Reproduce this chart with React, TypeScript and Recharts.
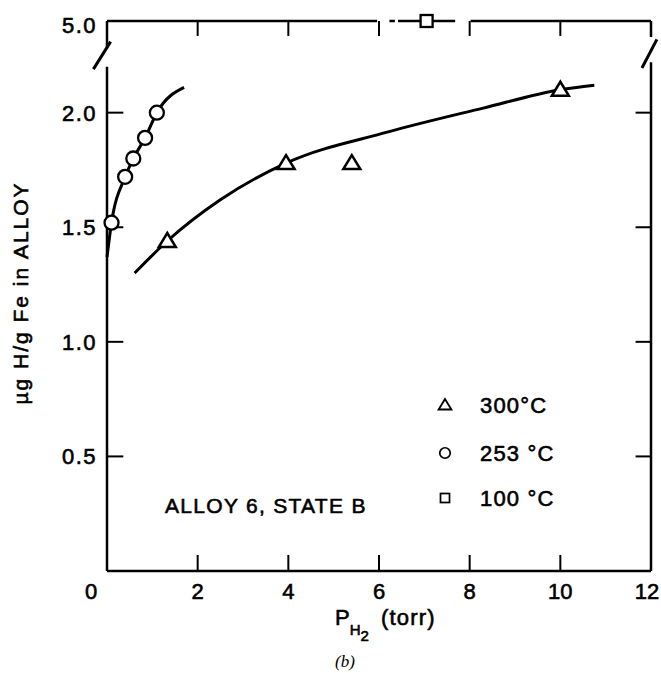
import { ComposedChart, Line, Scatter, XAxis, YAxis, ReferenceLine, Customized } from "recharts";

const FONT = "'Liberation Sans', Arial, sans-serif";
const INK = { fill: "#000", stroke: "#000", strokeWidth: 0.6 };

// axis ticks
const xTicks = [0, 2, 4, 6, 8, 10, 12];
const yTicks = [0.5, 1.0, 1.5, 2.0, 2.4];
const innerXTicks = [2, 4, 6, 8, 10];
const innerYTicks = [0.5, 1.0, 1.5, 2.0];

// the y axis is broken above 2.2; 5.0 sits on the top edge
const BREAK_TOP = 2.4;
const onAxis = (v: number) => (v > BREAK_TOP ? BREAK_TOP : v);

// 300 °C  (triangles)
const p300 = [1.33, 3.95, 5.4, 10.0];
const h300 = [1.44, 1.78, 1.78, 2.1];
const fit300x = [0.61, 1.33, 2.5, 3.95, 6.18, 8.3, 10.0, 10.75];
const fit300y = [1.3, 1.44, 1.62, 1.78, 1.915, 2.02, 2.1, 2.12];

// 253 °C  (circles)
const p253 = [0.1, 0.4, 0.58, 0.84, 1.1];
const h253 = [1.52, 1.72, 1.8, 1.89, 2.0];
const fit253x = [0.0, 0.1, 0.4, 0.58, 0.84, 1.1, 1.7];
const fit253y = [1.37, 1.52, 1.72, 1.8, 1.89, 2.0, 2.11];

// 100 °C  (square, off scale)
const p100 = [7.05];
const h100 = [5.0];
const range100 = [6.42, 7.05, 7.68];

// pieces of the frame (top edge has gaps around the 100 °C point)
const topEdge = [[0, 5.96], [6.23, 6.35], [8.02, 12]];
const leftEdge = [[0, 2.2], [2.28, 2.4]];
const rightEdge = [[0, 2.22], [2.33, 2.4]];

const zip = (xs: number[], ys: number[]) => xs.map((x, i) => ({ x, y: onAxis(ys[i]) }));

const tri = ({ cx, cy }: any) => (
    <polygon points={`${cx},${cy - 8} ${cx - 8.5},${cy + 6} ${cx + 8.5},${cy + 6}`} fill="#fff" stroke="#000" strokeWidth={2.5} />
);
const circ = ({ cx, cy }: any) => <circle cx={cx} cy={cy} r={7} fill="#fff" stroke="#000" strokeWidth={2.3} />;
const sq = ({ cx, cy }: any) => <rect x={cx - 6} y={cy - 6} width={12} height={12} fill="#fff" stroke="#000" strokeWidth={2.3} />;

function XTick({ x, y, payload }: any) {
    const v = payload.value;
    const dx = v === 0 ? -16 : v === 12 ? -4 : 0;
    return (
        <text x={x + dx} y={y + 28} textAnchor="middle" fontSize={22} fontFamily={FONT} {...INK}>
            {v}
        </text>
    );
}

function YTick({ x, y, payload }: any) {
    const v = payload.value;
    const label = v === BREAK_TOP ? "5.0" : v.toFixed(1);
    return (
        <text x={x - 10} y={y + 8 + (v === BREAK_TOP ? 4 : 0)} textAnchor="end" fontSize={22} fontFamily={FONT} {...INK} style={{ letterSpacing: "1.5px" }}>
            {label}
        </text>
    );
}

const legendRows = [
    { label: "300°C", shape: tri, y: 405 },
    { label: "253 °C", shape: circ, y: 453 },
    { label: "100 °C", shape: sq, y: 498 },
];

function Annotations() {
    return (
        <g fontFamily={FONT}>
            <g {...INK}>
                <text x={20} y={293} transform="rotate(-90, 20, 293)" textAnchor="middle" dominantBaseline="central" fontSize={21} style={{ letterSpacing: "2px" }}>
                    µg H/g Fe in ALLOY
                </text>
                <text x={335} y={625} fontSize={22}>
                    P
                    <tspan dy={10} fontSize={15}>H</tspan>
                    <tspan dy={6} fontSize={15}>2</tspan>
                    <tspan dy={-16} dx={12} style={{ letterSpacing: "1.2px" }}>(torr)</tspan>
                </text>
                <text x={165} y={513} fontSize={21} style={{ letterSpacing: "1.3px" }}>
                    ALLOY 6, STATE B
                </text>
            </g>
            <text x={345} y={667} textAnchor="middle" fontSize={17} fontStyle="italic" fontFamily="'Liberation Serif', serif" fill="#000">
                (b)
            </text>
            {legendRows.map((r) => (
                <g key={r.label}>
                    <g transform={`translate(${445},${r.y}) scale(0.75) translate(${-445},${-r.y})`}>{r.shape({ cx: 445, cy: r.y })}</g>
                    <text x={480} y={r.y + 8} fontSize={22} {...INK} style={{ letterSpacing: "1.2px" }}>
                        {r.label}
                    </text>
                </g>
            ))}
        </g>
    );
}

export default function App() {
    const seg = (a: { x: number; y: number }, b: { x: number; y: number }, key: string, w = 2.5) => (
        <ReferenceLine key={key} segment={[a, b]} stroke="#000" strokeWidth={w} ifOverflow="visible" />
    );

    return (
        <div style={{ position: "absolute", left: 0, top: 0, background: "#fff" }}>
            <ComposedChart width={661} height={673} margin={{ top: 21, right: 10, left: 0, bottom: 0 }}>
                <XAxis
                    dataKey="x"
                    type="number"
                    domain={[0, 12]}
                    ticks={xTicks}
                    height={102}
                    tickSize={0}
                    tickMargin={0}
                    tickLine={false}
                    axisLine={{ stroke: "#000", strokeWidth: 2.5 }}
                    tick={<XTick />}
                />
                <YAxis
                    dataKey="y"
                    type="number"
                    domain={[0, BREAK_TOP]}
                    ticks={yTicks}
                    width={107}
                    tickSize={0}
                    tickMargin={0}
                    tickLine={false}
                    axisLine={false}
                    tick={<YTick />}
                />

                {topEdge.map(([a, b], i) => seg({ x: a, y: BREAK_TOP }, { x: b, y: BREAK_TOP }, `t${i}`))}
                {leftEdge.map(([a, b], i) => seg({ x: 0, y: a }, { x: 0, y: b }, `l${i}`))}
                {rightEdge.map(([a, b], i) => seg({ x: 12, y: a }, { x: 12, y: b }, `r${i}`))}
                {seg({ x: -0.3, y: 2.19 }, { x: 0.08, y: 2.31 }, "bl", 3)}
                {seg({ x: 11.8, y: 2.195 }, { x: 12.13, y: 2.32 }, "br", 3)}
                {innerXTicks.map((v) => seg({ x: v, y: 0 }, { x: v, y: 0.07 }, `bx${v}`, 2))}
                {innerXTicks.map((v) => seg({ x: v, y: BREAK_TOP }, { x: v, y: 2.335 }, `tx${v}`, 2))}
                {innerYTicks.map((v) => seg({ x: 0, y: v }, { x: 0.36, y: v }, `ly${v}`, 2))}
                {innerYTicks.map((v) => seg({ x: 12, y: v }, { x: 11.66, y: v }, `ry${v}`, 2))}

                <Line data={zip(fit300x, fit300y)} dataKey="y" type="monotone" stroke="#000" strokeWidth={3} dot={false} isAnimationActive={false} />
                <Line data={zip(fit253x, fit253y)} dataKey="y" type="monotone" stroke="#000" strokeWidth={3} dot={false} isAnimationActive={false} />
                <Line data={range100.map((x) => ({ x, y: onAxis(h100[0]) }))} dataKey="y" stroke="#000" strokeWidth={2.5} dot={false} isAnimationActive={false} />

                <Scatter data={zip(p300, h300)} dataKey="y" shape={tri} isAnimationActive={false} />
                <Scatter data={zip(p253, h253)} dataKey="y" shape={circ} isAnimationActive={false} />
                <Scatter data={zip(p100, h100)} dataKey="y" shape={sq} isAnimationActive={false} />

                <Customized component={Annotations} />
            </ComposedChart>
        </div>
    );
}
